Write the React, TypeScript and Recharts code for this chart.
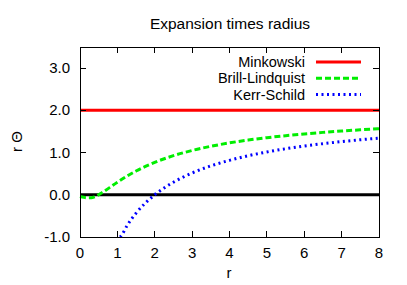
import { Line, LineChart, ReferenceArea, XAxis, YAxis } from "recharts";

const FONT = "'Liberation Sans', Arial, sans-serif";

const xTicks = [0, 1, 2, 3, 4, 5, 6, 7, 8];
const yTicks = [-1, 0, 1, 2, 3];

const rZero = [0, 8];
const zero = [0, 0];

const rMinkowski = [0, 8];
const minkowski = [2, 2];

const rBrill = [0, 0.1, 0.2, 0.3, 0.4, 0.5, 0.6, 0.8, 1, 1.25, 1.5, 1.75, 2, 2.5, 3, 3.5, 4, 4.5, 5, 5.5, 6, 6.5, 7, 7.5, 8];
const brill = [-0.04, -0.06, -0.07, -0.07, -0.045, 0, 0.054, 0.175, 0.296, 0.437, 0.562, 0.672, 0.768, 0.926, 1.05, 1.148, 1.229, 1.296, 1.352, 1.4, 1.442, 1.478, 1.51, 1.538, 1.563];

// the curve enters the frame at the bottom edge near r = 1.07
const rKerr = [1.07, 1.1, 1.25, 1.5, 1.75, 2, 2.25, 2.5, 3, 3.5, 4, 4.5, 5, 5.5, 6, 6.5, 7, 7.5, 8];
const kerr = [-1.0, -0.975, -0.744, -0.436, -0.195, 0, 0.162, 0.298, 0.516, 0.684, 0.816, 0.925, 1.014, 1.09, 1.155, 1.211, 1.26, 1.303, 1.342];

const seriesNames = ["Minkowski", "Brill-Lindquist", "Kerr-Schild"];
const seriesColors = ["#ff0000", "#00ee00", "#0000ff"];
const seriesDash = ["", "6 3", "2 3.5"];

const toPoints = (xs: number[], ys: number[]) => xs.map((r, i) => ({ r, v: ys[i] }));

const W = 407;
const H = 285;
const M = { top: 47, right: 28, bottom: 48, left: 80 };
const PLOT_W = W - M.left - M.right;
const PLOT_H = H - M.top - M.bottom;
const TICK = 6;
const xMin = xTicks[0];
const xMax = xTicks[xTicks.length - 1];
const yMin = yTicks[0];
const yMax = 3.5;

// bottom labels plus inward marks on the bottom edge and the mirrored top edge
function BottomTick({ x, y, payload }: any) {
  const inner = payload.value > xMin && payload.value < xMax;
  return (
    <g>
      {inner && (
        <line x1={x} x2={x} y1={y} y2={y - TICK} stroke="#000" strokeWidth={1} shapeRendering="crispEdges" />
      )}
      {inner && (
        <line
          x1={x}
          x2={x}
          y1={y - PLOT_H}
          y2={y - PLOT_H + TICK}
          stroke="#000"
          strokeWidth={1}
          shapeRendering="crispEdges"
        />
      )}
      <text x={x} y={y + 21} textAnchor="middle" fontSize={15} fontFamily={FONT} fill="#000">
        {payload.value}
      </text>
    </g>
  );
}

// left labels plus inward marks on the left edge and the mirrored right edge
function LeftTick({ x, y, payload }: any) {
  const inner = payload.value > yMin && payload.value < yMax;
  return (
    <g>
      {inner && (
        <line x1={x} x2={x + TICK} y1={y} y2={y} stroke="#000" strokeWidth={1} shapeRendering="crispEdges" />
      )}
      {inner && (
        <line
          x1={x + PLOT_W}
          x2={x + PLOT_W - TICK}
          y1={y}
          y2={y}
          stroke="#000"
          strokeWidth={1}
          shapeRendering="crispEdges"
        />
      )}
      <text x={x - 10} y={y + 5} textAnchor="end" fontSize={15} fontFamily={FONT} fill="#000">
        {payload.value.toFixed(1)}
      </text>
    </g>
  );
}

function KeyBox() {
  return (
    <svg width={160} height={52} style={{ display: "block" }}>
      {seriesNames.map((name, i) => {
        const cy = 9 + i * 16.3;
        return (
          <g key={name}>
            <text x={95} y={cy + 5} textAnchor="end" fontSize={14.5} fontFamily={FONT} fill="#000">
              {name}
            </text>
            <line
              x1={106}
              x2={151}
              y1={cy}
              y2={cy}
              stroke={seriesColors[i]}
              strokeWidth={3}
              strokeDasharray={seriesDash[i] || undefined}
            />
          </g>
        );
      })}
    </svg>
  );
}

export default function App() {
  return (
    <div style={{ position: "absolute", left: 0, top: 0 }}>
      <LineChart width={W} height={H} margin={{ top: M.top, right: M.right, bottom: 0, left: 0 }}>
        <XAxis
          dataKey="r"
          type="number"
          domain={[xMin, xMax]}
          ticks={xTicks}
          height={M.bottom}
          axisLine={{ stroke: "#000", shapeRendering: "crispEdges" }}
          tickLine={false}
          tickSize={0}
          tickMargin={0}
          tick={<BottomTick />}
        />
        <YAxis
          type="number"
          domain={[yMin, yMax]}
          ticks={yTicks}
          width={M.left}
          axisLine={{ stroke: "#000", shapeRendering: "crispEdges" }}
          tickLine={false}
          tickSize={0}
          tickMargin={0}
          tick={<LeftTick />}
        />
        <ReferenceArea
          x1={xMin}
          x2={xMax}
          y1={yMin}
          y2={yMax}
          fill="none"
          stroke="#000"
          strokeWidth={1}
          shapeRendering="crispEdges"
          ifOverflow="visible"
        />
        <Line
          data={toPoints(rZero, zero)}
          dataKey="v"
          stroke="#000"
          strokeWidth={3}
          dot={false}
          isAnimationActive={false}
        />
        <Line
          data={toPoints(rMinkowski, minkowski)}
          dataKey="v"
          name={seriesNames[0]}
          stroke={seriesColors[0]}
          strokeWidth={3}
          dot={false}
          isAnimationActive={false}
        />
        <Line
          data={toPoints(rBrill, brill)}
          dataKey="v"
          name={seriesNames[1]}
          type="monotone"
          stroke={seriesColors[1]}
          strokeWidth={3}
          strokeDasharray={seriesDash[1]}
          dot={false}
          isAnimationActive={false}
        />
        <Line
          data={toPoints(rKerr, kerr)}
          dataKey="v"
          name={seriesNames[2]}
          type="monotone"
          stroke={seriesColors[2]}
          strokeWidth={3}
          strokeDasharray={seriesDash[2]}
          dot={false}
          isAnimationActive={false}
        />
      </LineChart>
      <div
        style={{
          position: "absolute",
          left: 80,
          width: 300,
          top: 14,
          textAlign: "center",
          fontFamily: FONT,
          fontSize: 15.5,
          lineHeight: "20px",
          whiteSpace: "nowrap",
        }}
      >
        Expansion times radius
      </div>
      <div
        style={{
          position: "absolute",
          left: 7,
          top: 132,
          width: 20,
          height: 20,
          transform: "rotate(-90deg)",
          textAlign: "center",
          fontFamily: FONT,
          fontSize: 15,
          lineHeight: "20px",
          whiteSpace: "nowrap",
        }}
      >
        r Θ
      </div>
      <div
        style={{
          position: "absolute",
          left: 219,
          width: 20,
          top: 263,
          textAlign: "center",
          fontFamily: FONT,
          fontSize: 15,
          lineHeight: "20px",
        }}
      >
        r
      </div>
      <div style={{ position: "absolute", top: 53, left: 210 }}>
        <KeyBox />
      </div>
    </div>
  );
}
